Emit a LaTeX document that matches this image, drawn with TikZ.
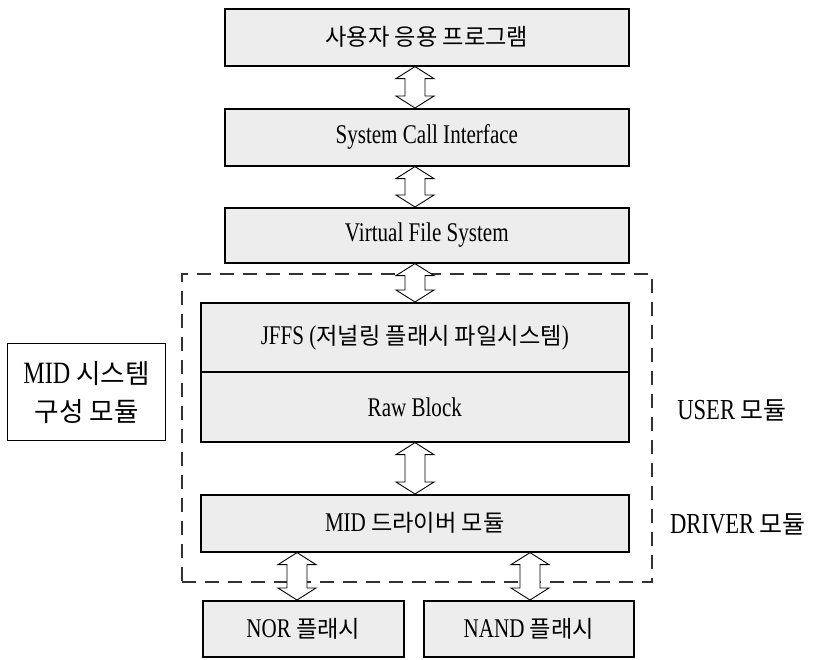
\documentclass[tikz,border=0pt]{standalone}
\usepackage{fontspec}
\setmainfont{Liberation Serif}[FakeStretch=0.78]
\newfontfamily\kr{Noto Sans CJK KR}[Scale=0.86]
\usetikzlibrary{calc}
\newcommand\dblarr[2]{%
  \draw[dbl] let \p1=(#1), \p2=(#2) in
    (\x1,\y1) -- ({\x1+19pt},{\y1-12pt}) -- ({\x1+10pt},{\y1-12pt})
    -- ({\x1+10pt},{\y2+12pt}) -- ({\x1+19pt},{\y2+12pt}) -- (\x1,\y2)
    -- ({\x1-19pt},{\y2+12pt}) -- ({\x1-10pt},{\y2+12pt})
    -- ({\x1-10pt},{\y1-12pt}) -- ({\x1-19pt},{\y1-12pt}) -- cycle;}
\begin{document}
\begin{tikzpicture}[x=1pt,y=-1pt,
  box/.style={draw, line width=1.6pt, fill=gray!14, inner sep=0pt, anchor=north west,
    font=\fontsize{27}{30}\selectfont},
  dbl/.style={draw, line width=0.9pt, fill=white, line join=miter},
  side/.style={font=\fontsize{29}{32}\selectfont, inner sep=0pt},
  frame/.style={draw=gray!40!black, line width=1.8pt, dash pattern=on 14pt off 9pt,
    anchor=north west, inner sep=0pt}]
\useasboundingbox (0,0) rectangle (818,659);
% dashed frame
\node[frame, minimum width=470, minimum height=308] (mid) at (181,273) {};
% boxes
\node[box, minimum width=404, minimum height=57] (b1) at (224,8) {\kr 사용자 응용 프로그램};
\node[box, minimum width=404, minimum height=57] (b2) at (224,108) {System Call Interface};
\node[box, minimum width=404, minimum height=55] (b3) at (224,207) {Virtual File System};
\node[box, minimum width=428, minimum height=69] (jffs) at (200,302) {JFFS ({\kr 저널링 플래시 파일시스템})};
\node[box, minimum width=428, minimum height=70] (raw) at (200,371) {Raw Block};
\node[box, minimum width=428, minimum height=57] (drv) at (200,494) {MID {\kr 드라이버 모듈}};
\node[box, minimum width=201, minimum height=56] (nor) at (202,600) {NOR {\kr 플래시}};
\node[box, minimum width=210, minimum height=56] (nand) at (423,600) {NAND {\kr 플래시}};
% side labels
\node[draw, line width=1.2pt, minimum width=158, minimum height=97, anchor=north west,
  inner sep=0pt, align=center, font=\fontsize{31}{38}\selectfont] (sys) at (7,343)
  {MID {\kr 시스템}\\{\kr 구성 모듈}};
\node[side] (usr) at (732,410) {USER {\kr 모듈}};
\node[side] (drvl) at (738,524) {DRIVER {\kr 모듈}};
% arrows
\coordinate (ax) at (415,0);
\coordinate (axl) at (297,0);
\coordinate (axr) at (530,0);
\dblarr{b1.south -| ax}{b2.north -| ax}
\dblarr{b2.south -| ax}{b3.north -| ax}
\dblarr{b3.south -| ax}{jffs.north -| ax}
\dblarr{raw.south -| ax}{drv.north -| ax}
\dblarr{drv.south -| axl}{nor.north -| axl}
\dblarr{drv.south -| axr}{nand.north -| axr}
\end{tikzpicture}
\end{document}
